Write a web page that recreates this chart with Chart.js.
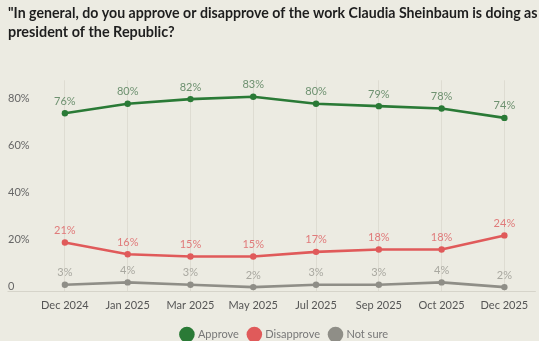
<!DOCTYPE html>
<html>
<head>
<meta charset="utf-8">
<script src="https://cdn.jsdelivr.net/npm/chart.js@4.4.1/dist/chart.umd.min.js"></script>
<style>
  html, body { margin: 0; padding: 0; background: #ecebe2; }
  #wrap { width: 539px; height: 341px; }
</style>
</head>
<body>
<div id="wrap"><canvas id="c" width="539" height="341"></canvas></div>
<script>
// Survey rounds
const months = ['Dec 2024', 'Jan 2025', 'Mar 2025', 'May 2025', 'Jul 2025', 'Sep 2025', 'Oct 2025', 'Dec 2025'];
// Share of respondents, %
const approve    = [76, 80, 82, 83, 80, 79, 78, 74];
const disapprove = [21, 16, 15, 15, 17, 18, 18, 24];
const notSure    = [3, 4, 3, 2, 3, 3, 4, 2];
const yTicks = [0, 20, 40, 60, 80];

const titleLines = ['"In general, do you approve or disapprove of the work Claudia Sheinbaum is doing as', 'president of the Republic?'];

const FONT = 'Lato, "Open Sans", sans-serif';

// Value labels above each point
const valueLabels = {
  id: 'valueLabels',
  afterDatasetsDraw(chart) {
    const ctx = chart.ctx;
    ctx.save();
    ctx.font = '11px ' + FONT;
    ctx.textAlign = 'center';
    ctx.textBaseline = 'bottom';
    chart.data.datasets.forEach((ds, i) => {
      const meta = chart.getDatasetMeta(i);
      ctx.fillStyle = ds.labelColor;
      meta.data.forEach((pt, j) => {
        ctx.fillText(ds.data[j] + '%', pt.x, pt.y - 6.5);
      });
    });
    ctx.restore();
  }
};

const bg = {
  id: 'bg',
  beforeDraw(chart) {
    const ctx = chart.ctx;
    ctx.save();
    ctx.fillStyle = '#ecebe2';
    ctx.fillRect(0, 0, chart.width, chart.height);
    ctx.restore();
  }
};

// Nudge the legend row to the right a little
const legendShift = {
  id: 'legendShift',
  afterLayout(chart) {
    if (chart.legend) {
      chart.legend.left += 12;
      chart.legend.right += 12;
    }
  }
};

new Chart(document.getElementById('c'), {
  type: 'line',
  data: {
    labels: months,
    datasets: [
      { label: 'Approve', data: approve, borderColor: '#2a7a36', backgroundColor: '#2a7a36', labelColor: '#6e9170' },
      { label: 'Disapprove', data: disapprove, borderColor: '#e05a5a', backgroundColor: '#e05a5a', labelColor: '#e07a7a' },
      { label: 'Not sure', data: notSure, borderColor: '#8f8e87', backgroundColor: '#8f8e87', labelColor: '#a9a8a0' }
    ].map(d => Object.assign(d, {
      borderWidth: 2.6,
      pointRadius: 3.2,
      pointHoverRadius: 3.2,
      pointBorderWidth: 0,
      tension: 0,
      clip: false
    }))
  },
  options: {
    responsive: false,
    animation: false,
    layout: { padding: { left: 8, right: 1.5, top: 4, bottom: -9 } },
    scales: {
      x: {
        offset: true,
        grid: { offset: false, color: '#dedcd2', lineWidth: 1, drawTicks: false },
        border: { display: false },
        ticks: { color: '#555', font: { family: FONT, size: 11 }, padding: 7, maxRotation: 0, autoSkip: false }
      },
      y: {
        min: 0,
        max: 90,
        afterBuildTicks(scale) { scale.ticks = yTicks.map(v => ({ value: v })); },
        afterFit(scale) { scale.width = 25.5; },
        grid: {
          color: c => (c.tick && c.tick.value === 0 ? '#d6d4ca' : 'rgba(0,0,0,0)'),
          tickLength: 26,
          drawTicks: true
        },
        border: { display: false },
        ticks: {
          color: '#666',
          font: { family: FONT, size: 11 },
          crossAlign: 'far',
          align: 'end',
          padding: 0,
          callback: v => (v === 0 ? '0' : v + '%')
        }
      }
    },
    plugins: {
      title: {
        display: true,
        text: titleLines,
        align: 'start',
        color: '#1e1e1e',
        font: { family: FONT, size: 14.4, weight: 'bold', lineHeight: 1.33 },
        padding: { top: 0, bottom: 38 }
      },
      legend: {
        position: 'bottom',
        labels: {
          usePointStyle: true,
          pointStyle: 'circle',
          boxWidth: 11,
          boxHeight: 11,
          padding: 10,
          color: '#777',
          font: { family: FONT, size: 11 }
        }
      },
      tooltip: { enabled: false }
    }
  },
  plugins: [bg, legendShift, valueLabels]
});
</script>
</body>
</html>
